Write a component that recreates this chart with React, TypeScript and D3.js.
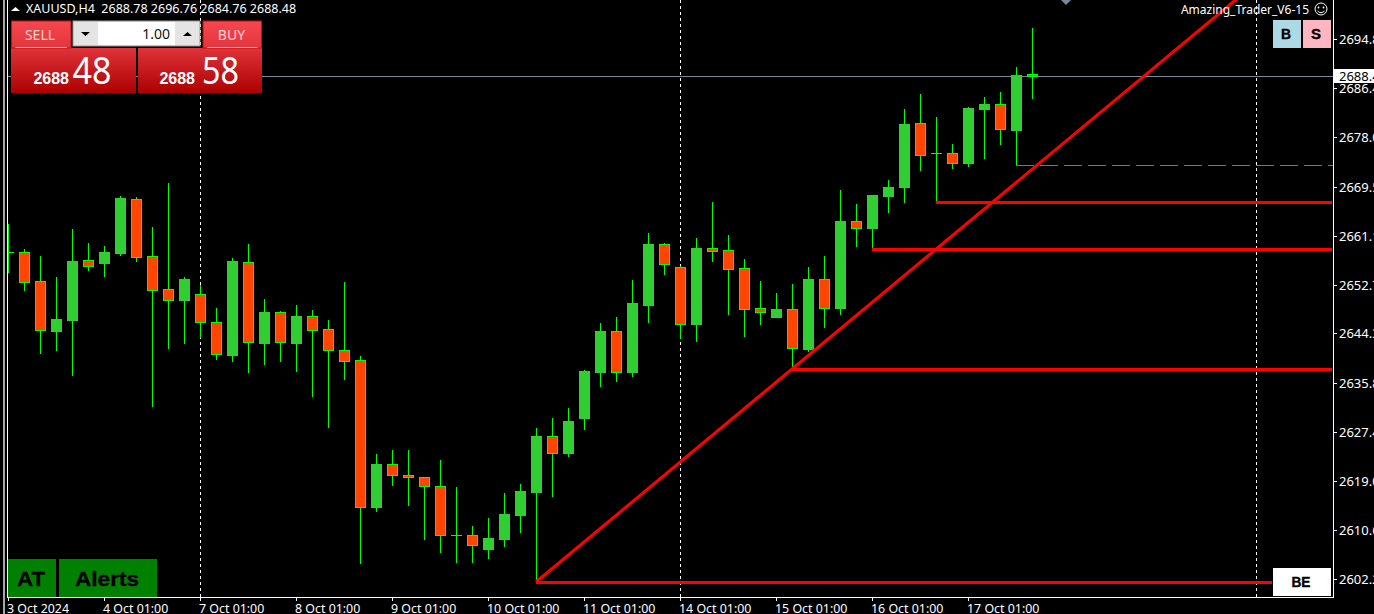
import React from "react";
import { scaleLinear, line } from "d3";

const width = 1374;
const height = 614;
const plotLeft = 8;
const plotRight = 1333;
const plotBottom = 597;

// H4 bars, left to right
const opens = [2658.28, 2658.28, 2653.3, 2644.73, 2646.61, 2656.9, 2656.39, 2658.11, 2667.36, 2657.59, 2651.93, 2650.04, 2651.07, 2646.27, 2640.61, 2656.56, 2642.67, 2647.98, 2642.67, 2647.3, 2645.07, 2641.47, 2639.75, 2614.55, 2621.92, 2620.03, 2619.69, 2618.15, 2609.75, 2609.75, 2607.35, 2609.06, 2613.17, 2617.12, 2626.73, 2623.81, 2629.81, 2637.7, 2644.73, 2637.7, 2649.19, 2659.64, 2655.7, 2645.92, 2658.96, 2658.62, 2655.53, 2648.67, 2647.13, 2648.5, 2641.64, 2653.64, 2648.67, 2663.59, 2662.39, 2667.88, 2669.42, 2680.4, 2675.25, 2675.25, 2673.54, 2682.79, 2683.65, 2679.19, 2688.78];
const highs = [2663.07, 2658.79, 2657.59, 2653.98, 2662.22, 2659.82, 2659.31, 2667.88, 2667.71, 2662.56, 2670.11, 2653.98, 2652.61, 2648.67, 2657.25, 2659.64, 2650.21, 2648.16, 2649.19, 2648.33, 2646.61, 2653.13, 2640.44, 2623.63, 2624.32, 2624.32, 2619.69, 2622.61, 2617.98, 2611.29, 2612.66, 2616.95, 2618.49, 2628.09, 2629.81, 2631.52, 2638.04, 2646.1, 2647.13, 2653.47, 2661.54, 2659.82, 2655.87, 2660.68, 2666.85, 2661.19, 2657.07, 2653.3, 2651.25, 2652.78, 2655.7, 2657.59, 2668.91, 2666.51, 2668.05, 2670.62, 2682.79, 2685.36, 2681.42, 2676.79, 2683.13, 2684.85, 2685.71, 2690.0, 2696.76];
const lows = [2654.85, 2651.76, 2640.96, 2641.47, 2637.18, 2655.19, 2654.16, 2657.76, 2656.73, 2631.87, 2641.81, 2642.67, 2643.69, 2639.92, 2639.58, 2637.7, 2639.06, 2639.58, 2637.87, 2633.58, 2628.26, 2636.49, 2604.94, 2613.86, 2618.32, 2614.89, 2609.06, 2606.83, 2605.12, 2605.12, 2605.8, 2607.86, 2610.26, 2601.69, 2616.43, 2623.29, 2627.92, 2635.29, 2636.15, 2637.01, 2646.27, 2654.5, 2643.53, 2643.01, 2656.73, 2647.64, 2643.87, 2645.92, 2647.13, 2638.21, 2641.3, 2645.41, 2647.64, 2659.31, 2658.79, 2665.14, 2666.85, 2672.33, 2666.85, 2672.67, 2673.02, 2674.39, 2676.79, 2673.19, 2684.76];
const closes = [2658.28, 2653.13, 2644.9, 2646.78, 2656.73, 2655.87, 2658.28, 2667.53, 2657.42, 2651.76, 2650.04, 2653.64, 2646.27, 2640.78, 2656.73, 2642.84, 2647.98, 2642.84, 2647.3, 2644.9, 2641.47, 2639.58, 2614.55, 2621.92, 2620.03, 2619.69, 2618.15, 2609.75, 2609.75, 2608.03, 2609.23, 2613.34, 2617.29, 2626.73, 2623.81, 2629.3, 2637.87, 2644.73, 2637.7, 2649.53, 2659.64, 2656.22, 2645.92, 2658.96, 2658.45, 2655.36, 2648.5, 2647.98, 2648.5, 2641.81, 2653.64, 2648.67, 2663.59, 2662.39, 2668.05, 2669.42, 2680.22, 2674.9, 2675.25, 2673.54, 2682.96, 2683.65, 2679.36, 2688.65, 2688.48];

const priceTicks = [2694.8, 2686.4, 2678.0, 2669.5, 2661.1, 2652.7, 2644.3, 2635.8, 2627.4, 2619.0, 2610.6, 2602.2];
const timeBars = [0, 6, 12, 18, 24, 30, 36, 42, 48, 54, 60];
const timeLabels = ["3 Oct 2024", "4 Oct 01:00", "7 Oct 01:00", "8 Oct 01:00", "9 Oct 01:00", "10 Oct 01:00", "11 Oct 01:00", "14 Oct 01:00", "15 Oct 01:00", "16 Oct 01:00", "17 Oct 01:00"];
const periodBars = [12, 42, 78];

const lastPrice = 2688.48;
const trendBars = [33, 49];
const levelBars = [49, 54, 58];
const beBar = 33;
const stopBar = 63;

const header = "XAUUSD,H4  2688.78 2696.76 2684.76 2688.48";
const uiFont = "'Noto Sans', Tahoma, sans-serif";
const boldFont = "'Liberation Sans', Arial, sans-serif";

const x = scaleLinear().domain([0, 64]).range([8, 1032]);
const y = scaleLinear().domain([2602.2, 2694.8]).range([579, 39]);
const py = (p: number) => Math.round(y(p));

const trend = scaleLinear()
  .domain(trendBars)
  .range(trendBars.map((i) => py(lows[i])));
const trendPath = line<number>()
  .x((i) => x(i))
  .y((i) => trend(i));

const TradeButton = ({ left, right, label, labelX, end }: any) => (
  <g>
    <rect x={left} y={21} width={right - left} height={27} fill="url(#btnTop)" stroke="#c01010" />
    <line x1={left + 4} x2={right - 4} y1={47.5} y2={47.5} stroke="#f6b0b0" />
    <text x={labelX} y={40} textAnchor="middle" fontFamily={uiFont} fontSize={14} fill="#ffd6d6">
      {label}
    </text>
    <text x={end} y={84} textAnchor="end" fontFamily={boldFont} fontWeight="bold" fontSize={16} fill="#fff">
      2688
    </text>
  </g>
);

const BoldLabel = ({ cx, by, size, len, children }: any) => (
  <text
    x={cx}
    y={by}
    textAnchor="middle"
    fontFamily={boldFont}
    fontWeight="bold"
    fontSize={size}
    fill="#000"
    stroke="#000"
    strokeWidth={0.35}
    textLength={len}
    lengthAdjust="spacingAndGlyphs"
  >
    {children}
  </text>
);

const App = () => {
  return (
    <svg
      width={width}
      height={height}
      style={{ position: "absolute", left: 0, top: 0, background: "#000", display: "block" }}
    >
      <defs>
        <linearGradient id="btnTop" x1="0" x2="0" y1="0" y2="1">
          <stop offset="0" stopColor="#f8474f" />
          <stop offset="1" stopColor="#e2353b" />
        </linearGradient>
        <linearGradient id="btnBottom" x1="0" x2="0" y1="0" y2="1">
          <stop offset="0" stopColor="#e0333a" />
          <stop offset="1" stopColor="#ac0000" />
        </linearGradient>
        <clipPath id="plot">
          <rect x={plotLeft} y={0} width={plotRight - plotLeft} height={plotBottom} />
        </clipPath>
      </defs>

      <rect x={3} y={0} width={2} height={height} fill="#a6a6a6" />
      <line x1={7.5} x2={7.5} y1={0} y2={plotBottom} stroke="#fff" />
      <line x1={plotRight + 0.5} x2={plotRight + 0.5} y1={0} y2={plotBottom + 1} stroke="#fff" />
      <line x1={7} x2={plotRight + 1} y1={plotBottom + 0.5} y2={plotBottom + 0.5} stroke="#fff" />

      <g clipPath="url(#plot)">
        {periodBars.map((b) => (
          <line
            key={b}
            x1={x(b) + 0.5}
            x2={x(b) + 0.5}
            y1={0}
            y2={plotBottom}
            stroke="#fff"
            strokeDasharray="3 3"
          />
        ))}
        <line x1={plotLeft} x2={plotRight} y1={py(lastPrice) + 0.5} y2={py(lastPrice) + 0.5} stroke="#778899" />

        {opens.map((o, i) => {
          const c = closes[i];
          const top = py(Math.max(o, c));
          const bottom = py(Math.min(o, c));
          const cx = x(i) + 0.5;
          const up = c > o;
          return (
            <g key={i}>
              <line x1={cx} x2={cx} y1={py(highs[i])} y2={py(lows[i]) + 1} stroke="#00ff00" />
              {o === c ? (
                <line x1={cx - 5.5} x2={cx + 5.5} y1={top + 0.5} y2={top + 0.5} stroke="#00ff00" />
              ) : (
                <rect
                  x={cx - 5}
                  y={top + 0.5}
                  width={10}
                  height={bottom - top}
                  fill={up ? "#32cd32" : "#ff4500"}
                  stroke={up ? "#32cd32" : "#00ff00"}
                />
              )}
            </g>
          );
        })}

        <line
          x1={x(stopBar)}
          x2={plotRight}
          y1={py(lows[stopBar]) + 0.5}
          y2={py(lows[stopBar]) + 0.5}
          stroke="#e0531f"
          strokeDasharray="18 6"
        />
        <path d={trendPath([trendBars[0], 90]) as string} fill="none" stroke="#ff0000" strokeWidth={3} />
        {levelBars.map((b) => (
          <line
            key={b}
            x1={x(b)}
            x2={plotRight - 1}
            y1={py(lows[b]) + 0.5}
            y2={py(lows[b]) + 0.5}
            stroke="#ff0000"
            strokeWidth={3}
          />
        ))}
        <line
          x1={x(beBar)}
          x2={1272}
          y1={py(lows[beBar]) + 0.5}
          y2={py(lows[beBar]) + 0.5}
          stroke="#ff0000"
          strokeWidth={3}
        />
        <polygon points="1061,0 1071,0 1066,5" fill="#778899" />
      </g>

      {/* price axis */}
      {priceTicks.map((p) => (
        <g key={p}>
          <line x1={plotRight} x2={plotRight + 4} y1={py(p) + 0.5} y2={py(p) + 0.5} stroke="#fff" />
          <text x={1339} y={py(p) + 5} fontFamily={uiFont} fontSize={13} fill="#fff">
            {p.toFixed(2)}
          </text>
        </g>
      ))}
      <rect x={1334} y={69} width={40} height={14} fill="#fff" />
      <text x={1339} y={81} fontFamily={uiFont} fontSize={13} fill="#000">
        {lastPrice.toFixed(2)}
      </text>

      {/* time axis */}
      {timeBars.map((b, i) => (
        <g key={b}>
          <line x1={x(b) + 0.5} x2={x(b) + 0.5} y1={plotBottom} y2={plotBottom + 4} stroke="#fff" />
          <text x={x(b) - 1} y={612.5} fontFamily={uiFont} fontSize={12.4} fill="#fff">
            {timeLabels[i]}
          </text>
        </g>
      ))}

      {/* header */}
      <polygon points="11,11 20,11 15.5,7" fill="#fff" />
      <text x={26} y={13} fontFamily={uiFont} fontSize={12.5} fill="#fff" style={{ whiteSpace: "pre" }}>
        {header}
      </text>
      <text x={1309} y={14} textAnchor="end" fontFamily={uiFont} fontSize={12} fill="#fff">
        Amazing_Trader_V6-15
      </text>
      <circle cx={1321} cy={9} r={6} fill="none" stroke="#fff" />
      <circle cx={1318.5} cy={7.5} r={0.9} fill="#fff" />
      <circle cx={1323.5} cy={7.5} r={0.9} fill="#fff" />
      <path d="M1317.5 11 Q1321 14.5 1324.5 11" fill="none" stroke="#fff" />

      {/* trade panel */}
      <rect x={11} y={48} width={125} height={45} fill="url(#btnBottom)" />
      <rect x={138} y={48} width={124} height={45} fill="url(#btnBottom)" />
      <TradeButton left={11.5} right={71} label="SELL" labelX={40} end={69} />
      <TradeButton left={203} right={261.5} label="BUY" labelX={231.5} end={195} />
      <text x={72.5} y={83.5} fontFamily={uiFont} fontSize={38} fill="#fff" textLength={39} lengthAdjust="spacingAndGlyphs">
        48
      </text>
      <text x={202} y={83.5} fontFamily={uiFont} fontSize={38} fill="#fff" textLength={37} lengthAdjust="spacingAndGlyphs">
        58
      </text>
      <rect x={73} y={21} width={127} height={25} fill="#e4e4e4" stroke="#9a9a9a" />
      <rect x={98} y={22} width={77} height={23} fill="#fff" />
      <polygon points="81,32 90,32 85.5,36" fill="#000" />
      <polygon points="183,36 192,36 187.5,32" fill="#000" />
      <text x={170} y={39} textAnchor="end" fontFamily={uiFont} fontSize={14} fill="#111">
        1.00
      </text>

      {/* object buttons */}
      <rect x={8} y={559} width={48} height={38} fill="#008000" />
      <rect x={59} y={559} width={98} height={38} fill="#008000" />
      <BoldLabel cx={31} by={586} size={21} len={28}>AT</BoldLabel>
      <BoldLabel cx={107} by={586} size={21} len={64}>Alerts</BoldLabel>
      <rect x={1273} y={20} width={28} height={28} fill="#add8e6" />
      <rect x={1303} y={20} width={28} height={28} fill="#ffb6c1" />
      <BoldLabel cx={1286} by={39} size={14} len={10}>B</BoldLabel>
      <BoldLabel cx={1316} by={39} size={14} len={10}>S</BoldLabel>
      <rect x={1273} y={568} width={58} height={28} fill="#fff" />
      <BoldLabel cx={1301} by={587} size={14} len={19}>BE</BoldLabel>
    </svg>
  );
};

export default App;
